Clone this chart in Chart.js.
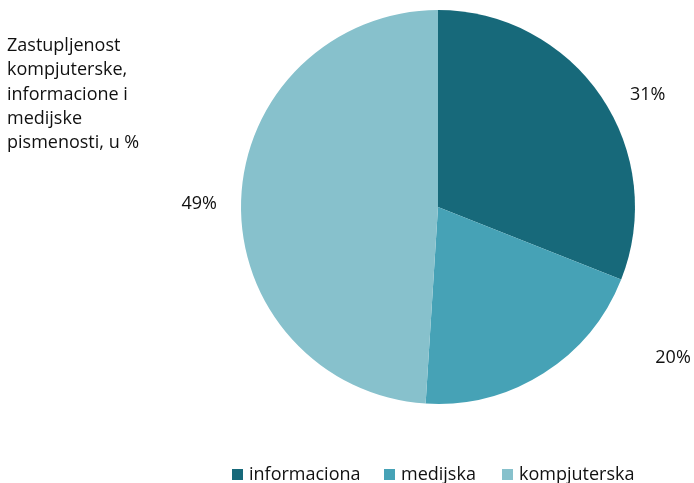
<!DOCTYPE html>
<html>
<head>
<meta charset="utf-8">
<script src="https://cdn.jsdelivr.net/npm/chart.js@4"></script>
<style>
  html, body { margin: 0; padding: 0; background: #fff; }
  #wrap { position: relative; width: 694px; height: 483px; overflow: hidden; }
  canvas { position: absolute; left: 0; top: 0; }
  #title { position: absolute; left: 7px; top: 32px; font-family: "Open Sans", sans-serif; font-size: 18px; line-height: 24.3px; color: #111; }
  .leg { position: absolute; top: 461px; font-family: "Open Sans", sans-serif; font-size: 18px; color: #111; white-space: nowrap; line-height: 24px; }
  .leg i { display: inline-block; width: 11px; height: 11px; margin-right: 6px; vertical-align: 0px; }
</style>
</head>
<body>
<div id="wrap">
  <canvas id="c" width="694" height="483"></canvas>
  <div id="title">Zastupljenost<br>kompjuterske,<br>informacione i<br>medijske<br>pismenosti, u %</div>
  <div id="legend"></div>
</div>
<script>
const categories = ["informaciona", "medijska", "kompjuterska"];
const values = [31, 20, 49];
const colors = ["#17697A", "#46A2B6", "#87C1CC"];
const legendX = [232, 384, 502];
// label offsets (px) from the outer point at each slice's mid-angle
const labelOffsets = [[12, 22], [107, -51], [0, 4]];

const leg = document.getElementById('legend');
categories.forEach((c, i) => {
  const d = document.createElement('div');
  d.className = 'leg';
  d.style.left = legendX[i] + 'px';
  d.innerHTML = '<i style="background:' + colors[i] + '"></i>' + c;
  leg.appendChild(d);
});

const labelPlugin = {
  id: 'pctLabels',
  afterDatasetsDraw(chart) {
    const ctx = chart.ctx;
    const meta = chart.getDatasetMeta(0);
    ctx.save();
    ctx.font = '18px "Open Sans", sans-serif';
    ctx.fillStyle = '#111';
    ctx.textAlign = 'center';
    ctx.textBaseline = 'middle';
    meta.data.forEach((arc, i) => {
      const p = arc.getProps(['x', 'y', 'startAngle', 'endAngle', 'outerRadius'], true);
      const mid = (p.startAngle + p.endAngle) / 2;
      const r = p.outerRadius + 42;
      const x = p.x + Math.cos(mid) * r + labelOffsets[i][0];
      const y = p.y + Math.sin(mid) * r + labelOffsets[i][1];
      ctx.fillText(values[i] + '%', x, y);
    });
    ctx.restore();
  }
};

new Chart(document.getElementById('c'), {
  type: 'pie',
  data: {
    labels: categories,
    datasets: [{ data: values, backgroundColor: colors, borderWidth: 0 }]
  },
  options: {
    responsive: false,
    animation: false,
    layout: { padding: { left: 241, right: 59, top: 10, bottom: 79 } },
    plugins: { legend: { display: false }, tooltip: { enabled: false } }
  },
  plugins: [labelPlugin]
});
</script>
</body>
</html>
